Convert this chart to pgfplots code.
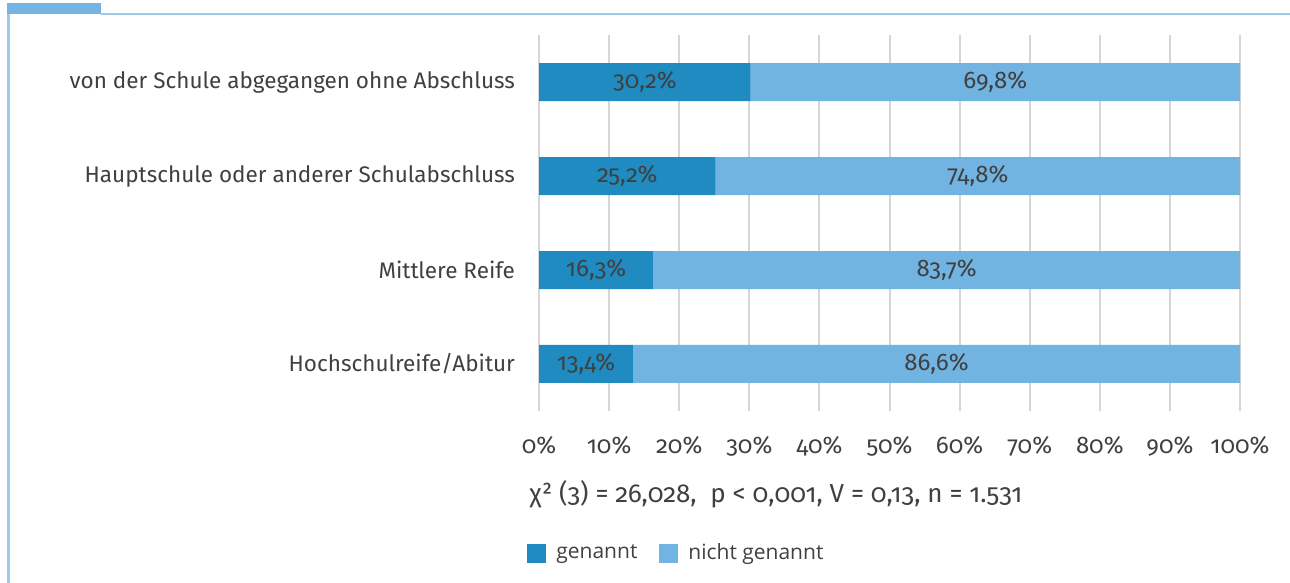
\documentclass[border=0pt]{standalone}
\usepackage{pgfplots}
\pgfplotsset{compat=1.18}
\usepackage{fontspec}
\setmainfont{Fira Sans}[Numbers=OldStyle]
\newfontfamily\legendfont{Open Sans}

\definecolor{dunkel}{RGB}{31,139,192}
\definecolor{hell}{RGB}{113,179,225}
\definecolor{txt}{RGB}{64,64,64}
\definecolor{gitter}{RGB}{214,214,214}
\definecolor{rahmen}{RGB}{158,203,234}
\definecolor{reiter}{RGB}{116,180,226}

\pgfplotsset{
    gemeinsam/.style={
        scale only axis,
        width=350.5pt, height=188pt,
        at={(269.5pt,-17.5pt)}, anchor=north west,
        xmin=0, xmax=100,
        ymin=-0.5, ymax=3.5,
        y dir=reverse,
    }
}

\begin{document}
\begin{tikzpicture}
\path[use as bounding box] (0,0) rectangle (645pt,-291.5pt);

\begin{axis}[
    gemeinsam,
    xbar stacked,
    bar width=19pt,
    axis line style={draw=none},
    tick style={draw=none},
    xtick={0,10,...,100},
    xticklabels={0\%,10\%,20\%,30\%,40\%,50\%,60\%,70\%,80\%,90\%,100\%},
    ytick={0,1,2,3},
    yticklabels={von der Schule abgegangen ohne Abschluss,
                 Hauptschule oder anderer Schulabschluss,
                 Mittlere Reife,
                 Hochschulreife/Abitur},
    xmajorgrids=true,
    grid style={gitter, line width=1pt},
    tick label style={text=txt},
    xticklabel style={font=\fontsize{12}{14}\selectfont, yshift=-9pt},
    yticklabel style={font=\fontsize{11.25}{13}\selectfont, xshift=-8.5pt},
    legend columns=2,
    legend style={draw=none, fill=none, font=\legendfont\fontsize{10.5}{12}\selectfont,
        text=txt, at={(0.2017,-0.378)}, anchor=center,
        /tikz/every even column/.append style={column sep=6pt},
        nodes={inner xsep=5pt}},
    legend image code/.code={\fill[#1] (0pt,-4.75pt) rectangle (9.5pt,4.75pt);},
]
\addplot[fill=dunkel, draw=none] coordinates {(30.2,0) (25.2,1) (16.3,2) (13.4,3)};
\addlegendentry{genannt}
\addplot[fill=hell, draw=none] coordinates {(69.8,0) (74.8,1) (83.7,2) (86.6,3)};
\addlegendentry{nicht genannt}
\end{axis}

% Datenbeschriftungen in der Mitte der Segmente
\begin{axis}[gemeinsam, hide axis]
\addplot[draw=none, mark=none, nodes near coords, point meta=explicit symbolic,
    nodes near coords align=center,
    every node near coord/.append style={font=\fontsize{12}{14}\selectfont, text=txt}]
  table[meta=lab] {
x     y  lab
15.10 0  30,2\%
65.10 0  69,8\%
12.60 1  25,2\%
62.60 1  74,8\%
8.15  2  16,3\%
58.15 2  83,7\%
6.70  3  13,4\%
56.70 3  86,6\%
};
\end{axis}

\begin{scope}[x=0.5pt, y=-0.5pt]
\fill[reiter] (7,3) rectangle (101,14);
\fill[rahmen] (101,13) rectangle (1290,15.5);
\fill[rahmen] (7,14) rectangle (9.5,583);
\node[text=txt, font=\fontsize{13}{15}\selectfont] at (776,494)
  {χ² (3) = 26,028,\ \ p < 0,001, V = 0,13, n = 1.531};
\end{scope}
\end{tikzpicture}
\end{document}
